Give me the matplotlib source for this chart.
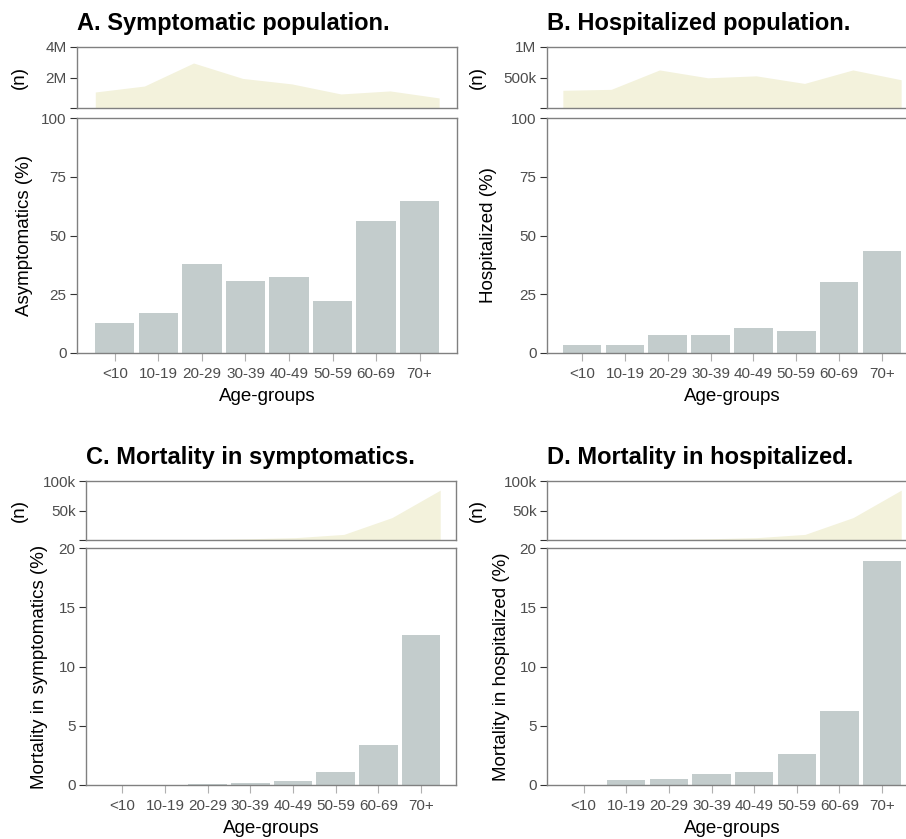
import numpy as np
import matplotlib
matplotlib.use("Agg")
import matplotlib.pyplot as plt
from matplotlib.ticker import FixedLocator

plt.rcParams['font.family'] = ['Liberation Sans', 'DejaVu Sans']

age_groups = ["<10", "10-19", "20-29", "30-39", "40-49", "50-59", "60-69", "70+"]

# Panel A
symptomatic_n = [1.05e6, 1.44e6, 2.95e6, 1.94e6, 1.58e6, 0.92e6, 1.12e6, 0.66e6]
asymptomatic_pct = [12.9, 17.0, 37.7, 30.8, 32.3, 22.1, 56.0, 64.7]
# Panel B
hospitalized_n = [290e3, 306e3, 624e3, 495e3, 527e3, 403e3, 624e3, 463e3]
hospitalized_pct = [3.4, 3.4, 7.5, 7.5, 10.8, 9.4, 30.3, 43.3]
# Panels C & D
deaths_n = [100, 200, 600, 2000, 4000, 9500, 38000, 84500]
mort_sympt_pct = [0.01, 0.02, 0.05, 0.17, 0.36, 1.07, 3.38, 12.66]
mort_hosp_pct = [0.0, 0.42, 0.51, 0.95, 1.1, 2.64, 6.27, 18.9]

W, H = 906, 839
fig = plt.figure(figsize=(W / 100, H / 100), dpi=100)

BAR = "#c3cccc"
AREA = "#f3f2dc"
SPINE = "#808080"
TICKLAB = "#4d4d4d"
TICKSZ = 11
LABSZ = 13.5


def px_axes(left, right, top, bottom):
    return fig.add_axes([left / W, 1 - bottom / H, (right - left) / W, (bottom - top) / H])


def style(ax):
    for s in ax.spines.values():
        s.set_color(SPINE)
        s.set_linewidth(1.0)
    ax.tick_params(axis='y', colors="#333333", labelcolor=TICKLAB, labelsize=TICKSZ, length=5, width=0.8, pad=2.5)


def panel(left, right, ttop, tbot, btop, bbot, xlim, title, ylabel, n_vals, n_max, n_ticks, n_labels,
          pct_vals, pct_max, pct_ticks, ylab_x, nlab_x):
    idx = np.arange(len(age_groups))
    width = 0.9
    # top area
    axt = px_axes(left, right, ttop, tbot)
    xs = np.linspace(idx[0] - width / 2, idx[-1] + width / 2, len(idx))
    axt.fill_between(xs, 0, n_vals, color=AREA, lw=0)
    axt.set_xlim(*xlim)
    axt.set_ylim(0, n_max)
    axt.set_xticks([])
    axt.yaxis.set_major_locator(FixedLocator(n_ticks))
    axt.set_yticklabels(n_labels)
    style(axt)
    axt.set_ylabel("(n)", fontsize=LABSZ)
    axt.yaxis.set_label_coords((nlab_x - left) / (right - left), 0.5)
    axt.set_title(title, loc='left', fontsize=17, fontweight='bold', pad=12.5, x=0.0)
    # bottom bars
    axb = px_axes(left, right, btop, bbot)
    axb.bar(idx, pct_vals, width=width, color=BAR, edgecolor='none')
    axb.set_xlim(*xlim)
    axb.set_ylim(0, pct_max)
    axb.set_yticks(pct_ticks)
    axb.set_xticks(idx)
    axb.set_xticklabels(age_groups)
    style(axb)
    axb.tick_params(axis='x', colors="#b0b0b0", labelcolor=TICKLAB, labelsize=TICKSZ, length=6, width=0.8, pad=4)
    axb.set_xlabel("Age-groups", fontsize=LABSZ, labelpad=5)
    axb.set_ylabel(ylabel, fontsize=LABSZ)
    axb.yaxis.set_label_coords((ylab_x - left) / (right - left), 0.5)


panel(77, 457, 47, 108, 118, 353, (-0.87, 7.86), "A. Symptomatic population.", "Asymptomatics (%)",
      symptomatic_n, 4e6, [0, 2e6, 4e6], ["", "2M", "4M"],
      asymptomatic_pct, 100, [0, 25, 50, 75, 100], 33, 28)
panel(547, 917, 47, 108, 118, 353, (-0.82, 7.82), "B. Hospitalized population.", "Hospitalized (%)",
      hospitalized_n, 1e6, [0, 5e5, 1e6], ["", "500k", "1M"],
      hospitalized_pct, 100, [0, 25, 50, 75, 100], 497, 486)
panel(86, 456, 481, 540, 548, 785, (-0.85, 7.82), "C. Mortality in symptomatics.", "Mortality in symptomatics (%)",
      deaths_n, 1e5, [0, 5e4, 1e5], ["", "50k", "100k"],
      mort_sympt_pct, 20, [0, 5, 10, 15, 20], 48, 28)
panel(547, 917, 481, 540, 548, 785, (-0.86, 7.82), "D. Mortality in hospitalized.", "Mortality in hospitalized (%)",
      deaths_n, 1e5, [0, 5e4, 1e5], ["", "50k", "100k"],
      mort_hosp_pct, 20, [0, 5, 10, 15, 20], 510, 486)

fig.savefig("out.png", dpi=100)
